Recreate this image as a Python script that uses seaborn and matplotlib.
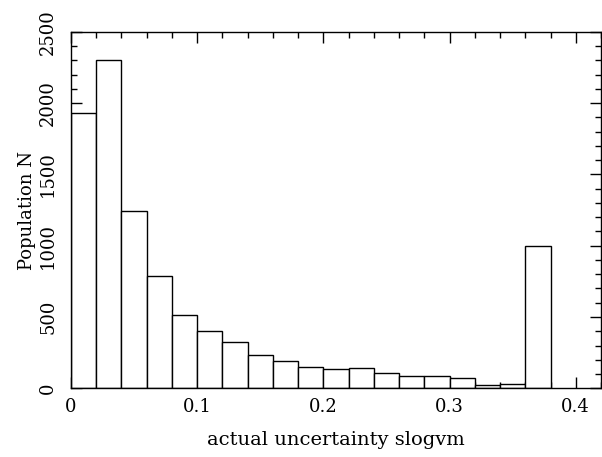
import matplotlib
matplotlib.use("Agg")
import matplotlib.pyplot as plt
from matplotlib.ticker import MultipleLocator
import numpy as np
import seaborn as sns

# histogram of slogvm, bin width 0.02
bin_edges = [0.00, 0.02, 0.04, 0.06, 0.08, 0.10, 0.12, 0.14, 0.16, 0.18,
             0.20, 0.22, 0.24, 0.26, 0.28, 0.30, 0.32, 0.34, 0.36, 0.38]
counts = [1930, 2305, 1245, 787, 512, 400, 328, 231, 189, 152,
          135, 140, 105, 86, 88, 72, 26, 28, 1000]

x_label = "actual uncertainty slogvm"
y_label = "Population N"

sns.set_style("ticks")
plt.rcParams["font.family"] = ["DejaVu Serif"]
plt.rcParams["axes.linewidth"] = 1.0
for k in ["text.color", "axes.labelcolor", "xtick.color", "ytick.color",
          "axes.edgecolor"]:
    plt.rcParams[k] = "black"

centers = (np.array(bin_edges[:-1]) + np.array(bin_edges[1:])) / 2

fig = plt.figure(figsize=(6.02, 4.57), dpi=100)
ax = fig.add_axes([0.1179, 0.1503, 0.8804, 0.7803])

sns.histplot(x=centers, weights=counts, bins=bin_edges, ax=ax,
             fill=True, color="white", edgecolor="black", linewidth=1.0,
             alpha=1.0, element="bars")

ax.set_xlim(0, 0.42)
ax.set_ylim(0, 2500)
ax.xaxis.set_major_locator(MultipleLocator(0.1))
ax.xaxis.set_minor_locator(MultipleLocator(0.02))
ax.yaxis.set_major_locator(MultipleLocator(500))
ax.yaxis.set_minor_locator(MultipleLocator(100))
ax.set_xticks([0, 0.1, 0.2, 0.3, 0.4])
ax.set_xticklabels(["0", "0.1", "0.2", "0.3", "0.4"])

ax.tick_params(which="both", direction="in", top=True, right=True,
               color="black", width=1.0, labelsize=13)
ax.tick_params(which="major", length=8)
ax.tick_params(which="minor", length=4)
ax.tick_params(axis="x", pad=7)
ax.tick_params(axis="y", pad=10)
for lbl in ax.get_yticklabels():
    lbl.set_rotation(90)
    lbl.set_va("center")

for s in ax.spines.values():
    s.set_visible(True)
    s.set_color("black")

ax.set_xlabel(x_label, fontsize=14, labelpad=11)
ax.set_ylabel(y_label, fontsize=13, labelpad=2)

fig.savefig("out.png", dpi=100)
